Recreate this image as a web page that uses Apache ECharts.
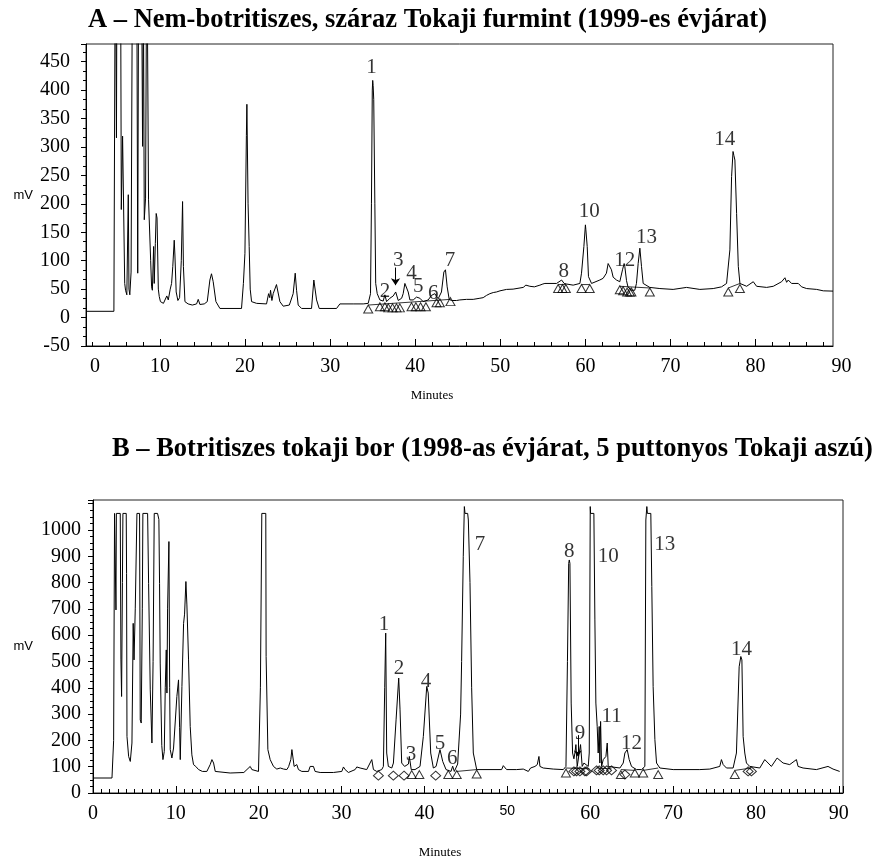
<!DOCTYPE html>
<html><head><meta charset="utf-8">
<script src="https://cdn.jsdelivr.net/npm/echarts@6/dist/echarts.min.js"></script>
<style>html,body{margin:0;padding:0;background:#fff}#c{width:880px;height:860px}</style>
</head><body><div id="c"></div><script>
const SERIF = 'Liberation Serif, "Times New Roman", serif';
const SANS = 'Liberation Sans, Arial, sans-serif';

const TITLE_A = 'A – Nem-botritiszes, száraz Tokaji furmint (1999-es évjárat)';
const TITLE_B = 'B – Botritiszes tokaji bor (1998-as évjárat, 5 puttonyos Tokaji aszú)';
const X_NAME = 'Minutes';
const Y_NAME = 'mV';

// axis ranges and tick labels
const A_X_RANGE = [1.3, 89.1];
const A_Y_RANGE = [-50, 481];
const A_X_LABELS = [0, 10, 20, 30, 40, 50, 60, 70, 80, 90];
const A_Y_LABELS = [-50, 0, 50, 100, 150, 200, 250, 300, 350, 400, 450];
const B_X_RANGE = [0, 90.5];
const B_Y_RANGE = [0, 1114];
const B_X_LABELS = [0, 10, 20, 30, 40, 50, 60, 70, 80, 90];
const B_Y_LABELS = [0, 100, 200, 300, 400, 500, 600, 700, 800, 900, 1000];

// chromatogram A: [minutes, mV]
const A_TRACE = [[1.3,11],[4.58,11],[4.75,700],[4.88,316],[4.95,700],[5.35,700],[5.45,190],[5.6,319],[5.85,60],[5.95,48],[6.1,40],[6.27,216],[6.35,50],[6.45,40],[6.6,80],[6.78,700],[7.25,700],[7.38,78],[7.5,700],[7.8,700],[7.95,301],[8.05,560],[8.15,172],[8.3,210],[8.45,700],[8.55,700],[8.65,207],[8.9,100],[9.01,54],[9.1,48],[9.25,125],[9.32,60],[9.45,130],[9.55,183],[9.65,175],[9.8,50],[9.91,37],[10.05,28],[10.2,30],[10.4,25],[10.6,28],[10.8,38],[10.97,31],[11.2,50],[11.36,60],[11.5,90],[11.67,136],[11.75,110],[11.9,45],[12.1,30],[12.3,35],[12.5,100],[12.65,204],[12.75,90],[12.93,28],[13.3,24],[13.8,22],[14.3,24],[14.49,32],[14.69,23],[15.2,24],[15.55,28],[15.86,66],[16.05,77],[16.25,63],[16.57,28],[17.04,16],[19.58,16],[19.8,60],[19.98,113],[20.15,320],[20.21,375],[20.35,200],[20.48,125],[20.6,50],[20.76,28],[21.35,25],[22.52,24],[22.76,42],[22.9,35],[22.99,48],[23.15,30],[23.3,42],[23.5,40],[23.69,58],[23.89,55],[24.09,28],[24.48,20],[25.2,22],[25.65,42],[25.89,78],[26.05,48],[26.24,22],[26.64,16],[27.81,16],[28.08,66],[28.24,69],[28.4,31],[28.71,16],[30.75,16],[31.14,24],[32.7,24],[33.88,24],[34.47,25],[34.74,42],[34.85,200],[34.95,400],[35.0,417],[35.05,408],[35.12,383],[35.25,200],[35.35,60],[35.53,42],[35.84,31],[36.23,29],[36.43,40],[36.63,28],[37.02,34],[37.41,38],[37.7,45],[38.0,30],[38.4,34],[38.58,42],[38.78,60],[38.9,59],[38.97,57],[39.17,45],[39.37,31],[39.76,31],[40.15,36],[40.54,34],[40.93,28],[41.52,31],[41.91,39],[42.3,42],[42.69,33],[43.08,45],[43.36,80],[43.55,84],[43.75,54],[43.99,32],[44.26,30],[44.85,30],[45.24,31],[46.03,32],[46.81,32],[47.6,34],[47.98,35],[48.38,39],[48.77,42],[49.17,44],[49.55,45],[49.96,47],[50.73,49.5],[51.5,50],[52.69,53],[53.0,57],[53.47,55],[54.0,54],[54.65,57],[55.0,59],[55.24,60],[56.61,60],[57.2,66],[57.5,60],[57.78,59],[58.56,57],[59.35,60],[59.54,78],[59.82,125],[60.0,163],[60.05,155],[60.21,125],[60.36,72],[60.72,60],[61.69,66],[62.08,69],[62.47,78],[62.67,95],[62.86,95],[63.06,84],[63.26,71],[63.65,66],[64.04,63],[64.36,84],[64.55,95],[64.63,90],[64.83,65],[65.0,54],[65.4,48],[65.8,48],[66.0,60],[66.2,95],[66.4,122],[66.59,90],[66.79,60],[67.57,53],[68.75,51],[70.31,49.5],[71.88,53],[73.45,49.5],[75.02,51],[76.0,54],[76.59,60],[76.98,119],[77.18,248],[77.35,292],[77.45,285],[77.57,277],[77.77,183],[77.97,90],[78.16,60],[78.95,55],[79.73,63],[79.93,66],[80.12,55],[81.3,53],[82.08,55],[83.06,63],[83.45,70],[83.65,62],[83.84,66],[84.23,60],[85.02,60],[85.41,54],[86.0,51],[87.18,49.5],[87.96,47],[89.1,46.5]];

// chromatogram B: [minutes, mV]
const B_TRACE = [[0,57],[2.29,57],[2.49,200],[2.6,1063],[2.72,1063],[2.77,696],[2.82,1063],[3.29,1063],[3.37,506],[3.45,367],[3.55,800],[3.61,1063],[4.01,1063],[4.05,835],[4.1,215],[4.3,139],[4.5,120],[4.7,190],[4.85,645],[4.95,506],[5.1,700],[5.3,1063],[5.62,1063],[5.7,278],[5.82,266],[5.95,700],[6.02,1063],[6.59,1063],[6.71,797],[6.91,392],[7.11,190],[7.25,500],[7.39,1063],[7.79,1063],[7.95,1040],[8.03,797],[8.11,494],[8.3,180],[8.44,127],[8.6,158],[8.72,400],[8.84,544],[8.92,380],[9.0,700],[9.16,956],[9.25,400],[9.32,165],[9.52,133],[9.72,171],[9.92,177],[10.12,367],[10.32,430],[10.45,250],[10.53,127],[10.73,405],[10.93,645],[11.05,680],[11.21,804],[11.33,715],[11.53,506],[11.73,253],[11.93,145],[12.13,108],[12.4,101],[12.74,89],[13.2,82],[13.74,82],[14.14,108],[14.35,127],[14.55,114],[14.75,82],[16.55,76],[18.2,78],[18.97,101],[19.17,89],[19.97,82],[20.2,400],[20.37,1063],[20.85,1063],[20.89,519],[21.1,165],[21.38,127],[21.78,101],[22.18,91],[22.6,95],[23.0,91],[23.39,89],[23.6,100],[23.87,127],[24.0,165],[24.11,171],[24.27,101],[24.59,108],[24.79,89],[25.2,82],[26.0,82],[26.2,101],[26.6,101],[26.8,82],[27.41,78],[29.01,78],[30.02,82],[30.22,99],[30.42,89],[30.82,78],[31.63,89],[31.83,99],[32.23,95],[33.03,89],[33.64,127],[33.84,89],[34.24,82],[34.84,89],[35.04,101],[35.2,400],[35.32,608],[35.44,152],[35.64,101],[36.05,95],[36.25,114],[36.57,278],[36.89,437],[37.05,316],[37.25,114],[37.6,101],[38.06,110],[38.17,139],[38.4,89],[38.86,89],[39.46,101],[39.86,215],[40.27,405],[40.45,380],[40.75,152],[41.07,95],[41.4,101],[41.87,165],[42.2,120],[42.6,89],[43.2,82],[43.4,102],[43.6,82],[44.0,110],[44.36,300],[44.48,500],[44.68,900],[44.81,1089],[44.89,1063],[45.21,1063],[45.29,1038],[45.49,800],[45.69,400],[45.89,152],[46.3,89],[49.31,89],[49.51,104],[49.71,101],[49.91,89],[51.12,89],[51.3,95],[51.92,91],[52.53,82],[52.8,95],[53.33,101],[53.61,108],[53.81,139],[53.93,101],[54.33,95],[55.54,91],[56.75,89],[57.07,101],[57.25,500],[57.4,873],[57.47,886],[57.55,873],[57.7,342],[57.87,152],[58.03,130],[58.15,152],[58.27,184],[58.43,101],[58.67,152],[58.83,184],[59.03,101],[59.24,114],[59.44,114],[59.76,101],[59.88,152],[60.0,1089],[60.04,1063],[60.44,1063],[60.56,658],[60.68,342],[60.84,253],[60.96,152],[61.08,253],[61.16,114],[61.25,272],[61.37,101],[61.57,127],[61.89,139],[62.05,190],[62.17,101],[62.37,95],[63.58,95],[63.98,114],[64.18,152],[64.46,165],[64.7,127],[64.98,101],[65.58,89],[66.19,89],[66.59,101],[66.71,1038],[66.83,1089],[66.9,1063],[67.31,1063],[67.43,785],[67.59,405],[67.8,203],[68.0,114],[68.4,95],[70.01,89],[73.22,89],[74.43,91],[75.63,101],[75.83,127],[76.04,108],[76.44,95],[77.24,95],[77.64,152],[77.97,480],[78.17,519],[78.3,506],[78.45,215],[78.65,152],[78.85,114],[79.25,101],[80.46,95],[81.06,127],[81.46,114],[81.86,101],[82.55,133],[83.27,114],[84.07,108],[84.88,127],[85.08,101],[85.68,95],[87.29,89],[88.69,101],[89.3,91],[90.1,82]];

// peak numbers: [label, minutes, mV]
const A_PEAKS = [['1',34.86,439],['2',36.43,45],['3',37.99,101],['4',39.56,78],['5',40.34,54],['6',42.1,42],['7',44.07,101],['8',57.46,81],['10',60.44,186],['12',64.63,101],['13',67.18,140],['14',76.38,313]];
const B_PEAKS = [['1',35.12,639],['2',36.93,475],['3',38.38,145],['4',40.19,424],['5',41.87,190],['6',43.36,133],['7',46.7,943],['8',57.47,918],['9',58.75,228],['10',62.17,899],['11',62.57,291],['12',64.98,190],['13',69.0,943],['14',78.25,544]];

// integration markers
const A_TRIANGLES = [[34.47,15],[35.84,19],[36.43,19],[36.83,17],[37.33,17],[37.8,17],[38.19,17],[39.56,19],[40.07,19],[40.62,19],[41.25,19],[42.5,26],[42.89,26],[44.14,28],[56.79,51],[57.3,51],[57.7,51],[59.54,51],[60.51,51],[64.04,49],[64.43,47],[64.9,45],[65.22,45],[65.41,45],[67.57,45],[76.79,45],[78.16,51]];
const B_TRIANGLES = [[38.46,70],[39.38,70],[42.87,70],[43.89,70],[46.3,72],[57.07,76],[63.7,70],[65.38,76],[66.39,76],[68.2,70],[77.44,70]];
const B_DIAMONDS = [[34.44,66],[36.24,66],[37.53,66],[41.35,66],[58.03,82],[58.35,82],[58.75,82],[59.36,82],[59.56,82],[60.76,86],[61.08,86],[61.57,86],[61.97,86],[62.57,86],[64.18,70],[79.05,82],[79.45,82]];

// integration baselines: [[t1,v1],[t2,v2]]
const A_BASELINES = [[[34.47,22],[44.14,32]],[[56.79,58],[57.7,58]],[[59.54,58],[60.51,58]],[[64.04,55],[67.57,52]],[[76.79,52],[78.16,60]]];
const B_BASELINES = [[[43.89,82],[46.3,89]],[[57.07,95],[59.9,92]],[[60.76,95],[62.57,92]],[[63.7,89],[65.38,86]],[[66.39,86],[68.2,95]],[[77.44,86],[79.45,95]]];

// arrows: [minutes, mV from, mV to]
const A_ARROWS = [[37.68,88,57]];
const B_ARROWS = [[58.5,220,139]];

const BLACK = '#000';

function segData(segs){
  const out = [];
  segs.forEach((s, i) => { if (i) out.push('-'); out.push(s[0], s[1]); });
  return out;
}
function arrowLines(arr){
  return arr.map(a => [{coord:[a[0], a[1]]}, {coord:[a[0], a[2]]}]);
}
function peakData(arr){ return arr.map(p => ({name:p[0], value:[p[1], p[2]]})); }

const aMinor = [];
for (let v = 2; v < A_X_RANGE[1]; v += 2) if (v % 10 !== 0) aMinor.push(v);
const aMajor = A_X_LABELS.filter(v => v > A_X_RANGE[0] && v < A_X_RANGE[1]);
const aLabelVals = A_X_LABELS.map(v => Math.min(Math.max(v, A_X_RANGE[0]), A_X_RANGE[1]));

const chart = echarts.init(document.getElementById('c'), null, {renderer:'canvas'});

const tickLabel = {fontFamily: SERIF, fontSize: 20, color: BLACK};
const titleStyle = {fontFamily: SERIF, fontWeight: 'bold', fontSize: 26.5, color: BLACK};

chart.setOption({
  animation: false,
  backgroundColor: '#fff',
  title: [
    {text: TITLE_A, left: 88, top: 7, padding: 0, textStyle: titleStyle},
    {text: TITLE_B, left: 112, top: 436, padding: 0, textStyle: titleStyle}
  ],
  grid: [
    {left: 86, top: 44, width: 747, height: 302, show: true, borderColor: '#222', borderWidth: 1, backgroundColor: 'transparent'},
    {left: 93, top: 500, width: 750, height: 293, show: true, borderColor: '#222', borderWidth: 1, backgroundColor: 'transparent'}
  ],
  xAxis: [
    {gridIndex: 0, type: 'value', min: A_X_RANGE[0], max: A_X_RANGE[1],
     name: X_NAME, nameLocation: 'middle', nameGap: 43,
     nameTextStyle: {fontFamily: SERIF, fontSize: 13, color: BLACK, padding: [0, 55, 0, 0]},
     axisLine: {show: true, onZero: false, lineStyle: {color: BLACK, width: 1}},
     axisTick: {show: true, inside: true, length: 7, customValues: aMajor, lineStyle: {color: BLACK}},
     axisLabel: {customValues: aLabelVals, margin: 11, ...tickLabel,
       formatter: v => v <= A_X_RANGE[0] + 1e-6 ? '{s|' + A_X_LABELS[0] + '}' : (v >= A_X_RANGE[1] - 1e-6 ? '{e|' + A_X_LABELS[A_X_LABELS.length-1] + '}' : '{n|' + v + '}'),
       rich: {n: {...tickLabel}, s: {...tickLabel, padding: [0, 0, 0, 18]}, e: {...tickLabel, padding: [0, 0, 0, 17]}}},
     splitLine: {show: false}},
    {gridIndex: 0, type: 'value', min: A_X_RANGE[0], max: A_X_RANGE[1], position: 'bottom',
     axisLine: {show: false, onZero: false}, axisLabel: {show: false}, splitLine: {show: false},
     axisTick: {show: true, inside: true, length: 4, customValues: aMinor, lineStyle: {color: BLACK}}},
    {gridIndex: 1, type: 'value', min: B_X_RANGE[0], max: B_X_RANGE[1], interval: 10,
     name: X_NAME, nameLocation: 'middle', nameGap: 53,
     nameTextStyle: {fontFamily: SERIF, fontSize: 13, color: BLACK, padding: [0, 56, 0, 0]},
     axisLine: {show: true, onZero: false, lineStyle: {color: BLACK, width: 1}},
     axisTick: {show: true, inside: true, length: 7, lineStyle: {color: BLACK}},
     minorTick: {show: true, splitNumber: 10, length: 4, lineStyle: {color: BLACK}},
     axisLabel: {customValues: B_X_LABELS, margin: 11, ...tickLabel,
       formatter: v => v === 50 ? '{m|' + v + '}' : '{n|' + v + '}',
       rich: {n: {...tickLabel}, m: {fontFamily: SANS, fontSize: 14, color: BLACK, padding: [0, 0, 8, 0]}}},
     splitLine: {show: false}}
  ],
  yAxis: [
    {gridIndex: 0, type: 'value', min: A_Y_RANGE[0], max: A_Y_RANGE[1], interval: 50,
     name: Y_NAME, nameLocation: 'middle', nameRotate: 0, nameGap: 53,
     nameTextStyle: {fontFamily: SANS, fontSize: 13, color: BLACK, padding: [0, 0, 14, 0]},
     axisLine: {show: true, onZero: false, lineStyle: {color: BLACK, width: 1}},
     axisTick: {show: true, inside: false, length: 5, lineStyle: {color: BLACK}},
     minorTick: {show: true, splitNumber: 3, length: 3, lineStyle: {color: BLACK}},
     axisLabel: {customValues: A_Y_LABELS, margin: 16, ...tickLabel, formatter: v => String(v)},
     splitLine: {show: false}},
    {gridIndex: 1, type: 'value', min: B_Y_RANGE[0], max: B_Y_RANGE[1], interval: 100,
     name: Y_NAME, nameLocation: 'middle', nameRotate: 0, nameGap: 60,
     nameTextStyle: {fontFamily: SANS, fontSize: 13, color: BLACK, padding: [0, 0, 8, 0]},
     axisLine: {show: true, onZero: false, lineStyle: {color: BLACK, width: 1}},
     axisTick: {show: true, inside: false, length: 5, lineStyle: {color: BLACK}},
     minorTick: {show: true, splitNumber: 4, length: 3, lineStyle: {color: BLACK}},
     axisLabel: {customValues: B_Y_LABELS, margin: 12, ...tickLabel, formatter: v => String(v)},
     splitLine: {show: false}}
  ],
  series: [
    {type: 'line', name: 'A', xAxisIndex: 0, yAxisIndex: 0, data: A_TRACE, showSymbol: false, symbol: 'none',
     lineStyle: {color: BLACK, width: 1}, clip: true, silent: true,
     markLine: {silent: true, symbol: ['none', 'arrow'], symbolSize: 7, label: {show: false},
       lineStyle: {color: BLACK, width: 1, type: 'solid'}, data: arrowLines(A_ARROWS)}},
    {type: 'line', name: 'A baseline', xAxisIndex: 0, yAxisIndex: 0, data: segData(A_BASELINES), showSymbol: false, symbol: 'none',
     lineStyle: {color: BLACK, width: 0.8}, silent: true},
    {type: 'scatter', name: 'A marks', xAxisIndex: 0, yAxisIndex: 0, data: A_TRIANGLES, symbol: 'triangle', symbolSize: [9, 8],
     itemStyle: {color: 'rgba(0,0,0,0)', borderColor: BLACK, borderWidth: 1}, silent: true},
    {type: 'scatter', name: 'A peaks', xAxisIndex: 0, yAxisIndex: 0, data: peakData(A_PEAKS), symbolSize: 1,
     itemStyle: {color: 'rgba(0,0,0,0)'}, silent: true,
     label: {show: true, position: 'inside', formatter: '{b}', fontFamily: SERIF, fontSize: 21, color: BLACK}},
    {type: 'line', name: 'B', xAxisIndex: 2, yAxisIndex: 1, data: B_TRACE, showSymbol: false, symbol: 'none',
     lineStyle: {color: BLACK, width: 1}, clip: true, silent: true,
     markLine: {silent: true, symbol: ['none', 'arrow'], symbolSize: 6, label: {show: false},
       lineStyle: {color: BLACK, width: 1, type: 'solid'}, data: arrowLines(B_ARROWS)}},
    {type: 'line', name: 'B baseline', xAxisIndex: 2, yAxisIndex: 1, data: segData(B_BASELINES), showSymbol: false, symbol: 'none',
     lineStyle: {color: BLACK, width: 0.8}, silent: true},
    {type: 'scatter', name: 'B triangles', xAxisIndex: 2, yAxisIndex: 1, data: B_TRIANGLES, symbol: 'triangle', symbolSize: [9, 8],
     itemStyle: {color: 'rgba(0,0,0,0)', borderColor: BLACK, borderWidth: 1}, silent: true},
    {type: 'scatter', name: 'B diamonds', xAxisIndex: 2, yAxisIndex: 1, data: B_DIAMONDS, symbol: 'diamond', symbolSize: [10, 9],
     itemStyle: {color: 'rgba(0,0,0,0)', borderColor: BLACK, borderWidth: 1}, silent: true},
    {type: 'scatter', name: 'B peaks', xAxisIndex: 2, yAxisIndex: 1, data: peakData(B_PEAKS), symbolSize: 1,
     itemStyle: {color: 'rgba(0,0,0,0)'}, silent: true,
     label: {show: true, position: 'inside', formatter: '{b}', fontFamily: SERIF, fontSize: 21, color: BLACK}}
  ]
});
</script></body></html>
